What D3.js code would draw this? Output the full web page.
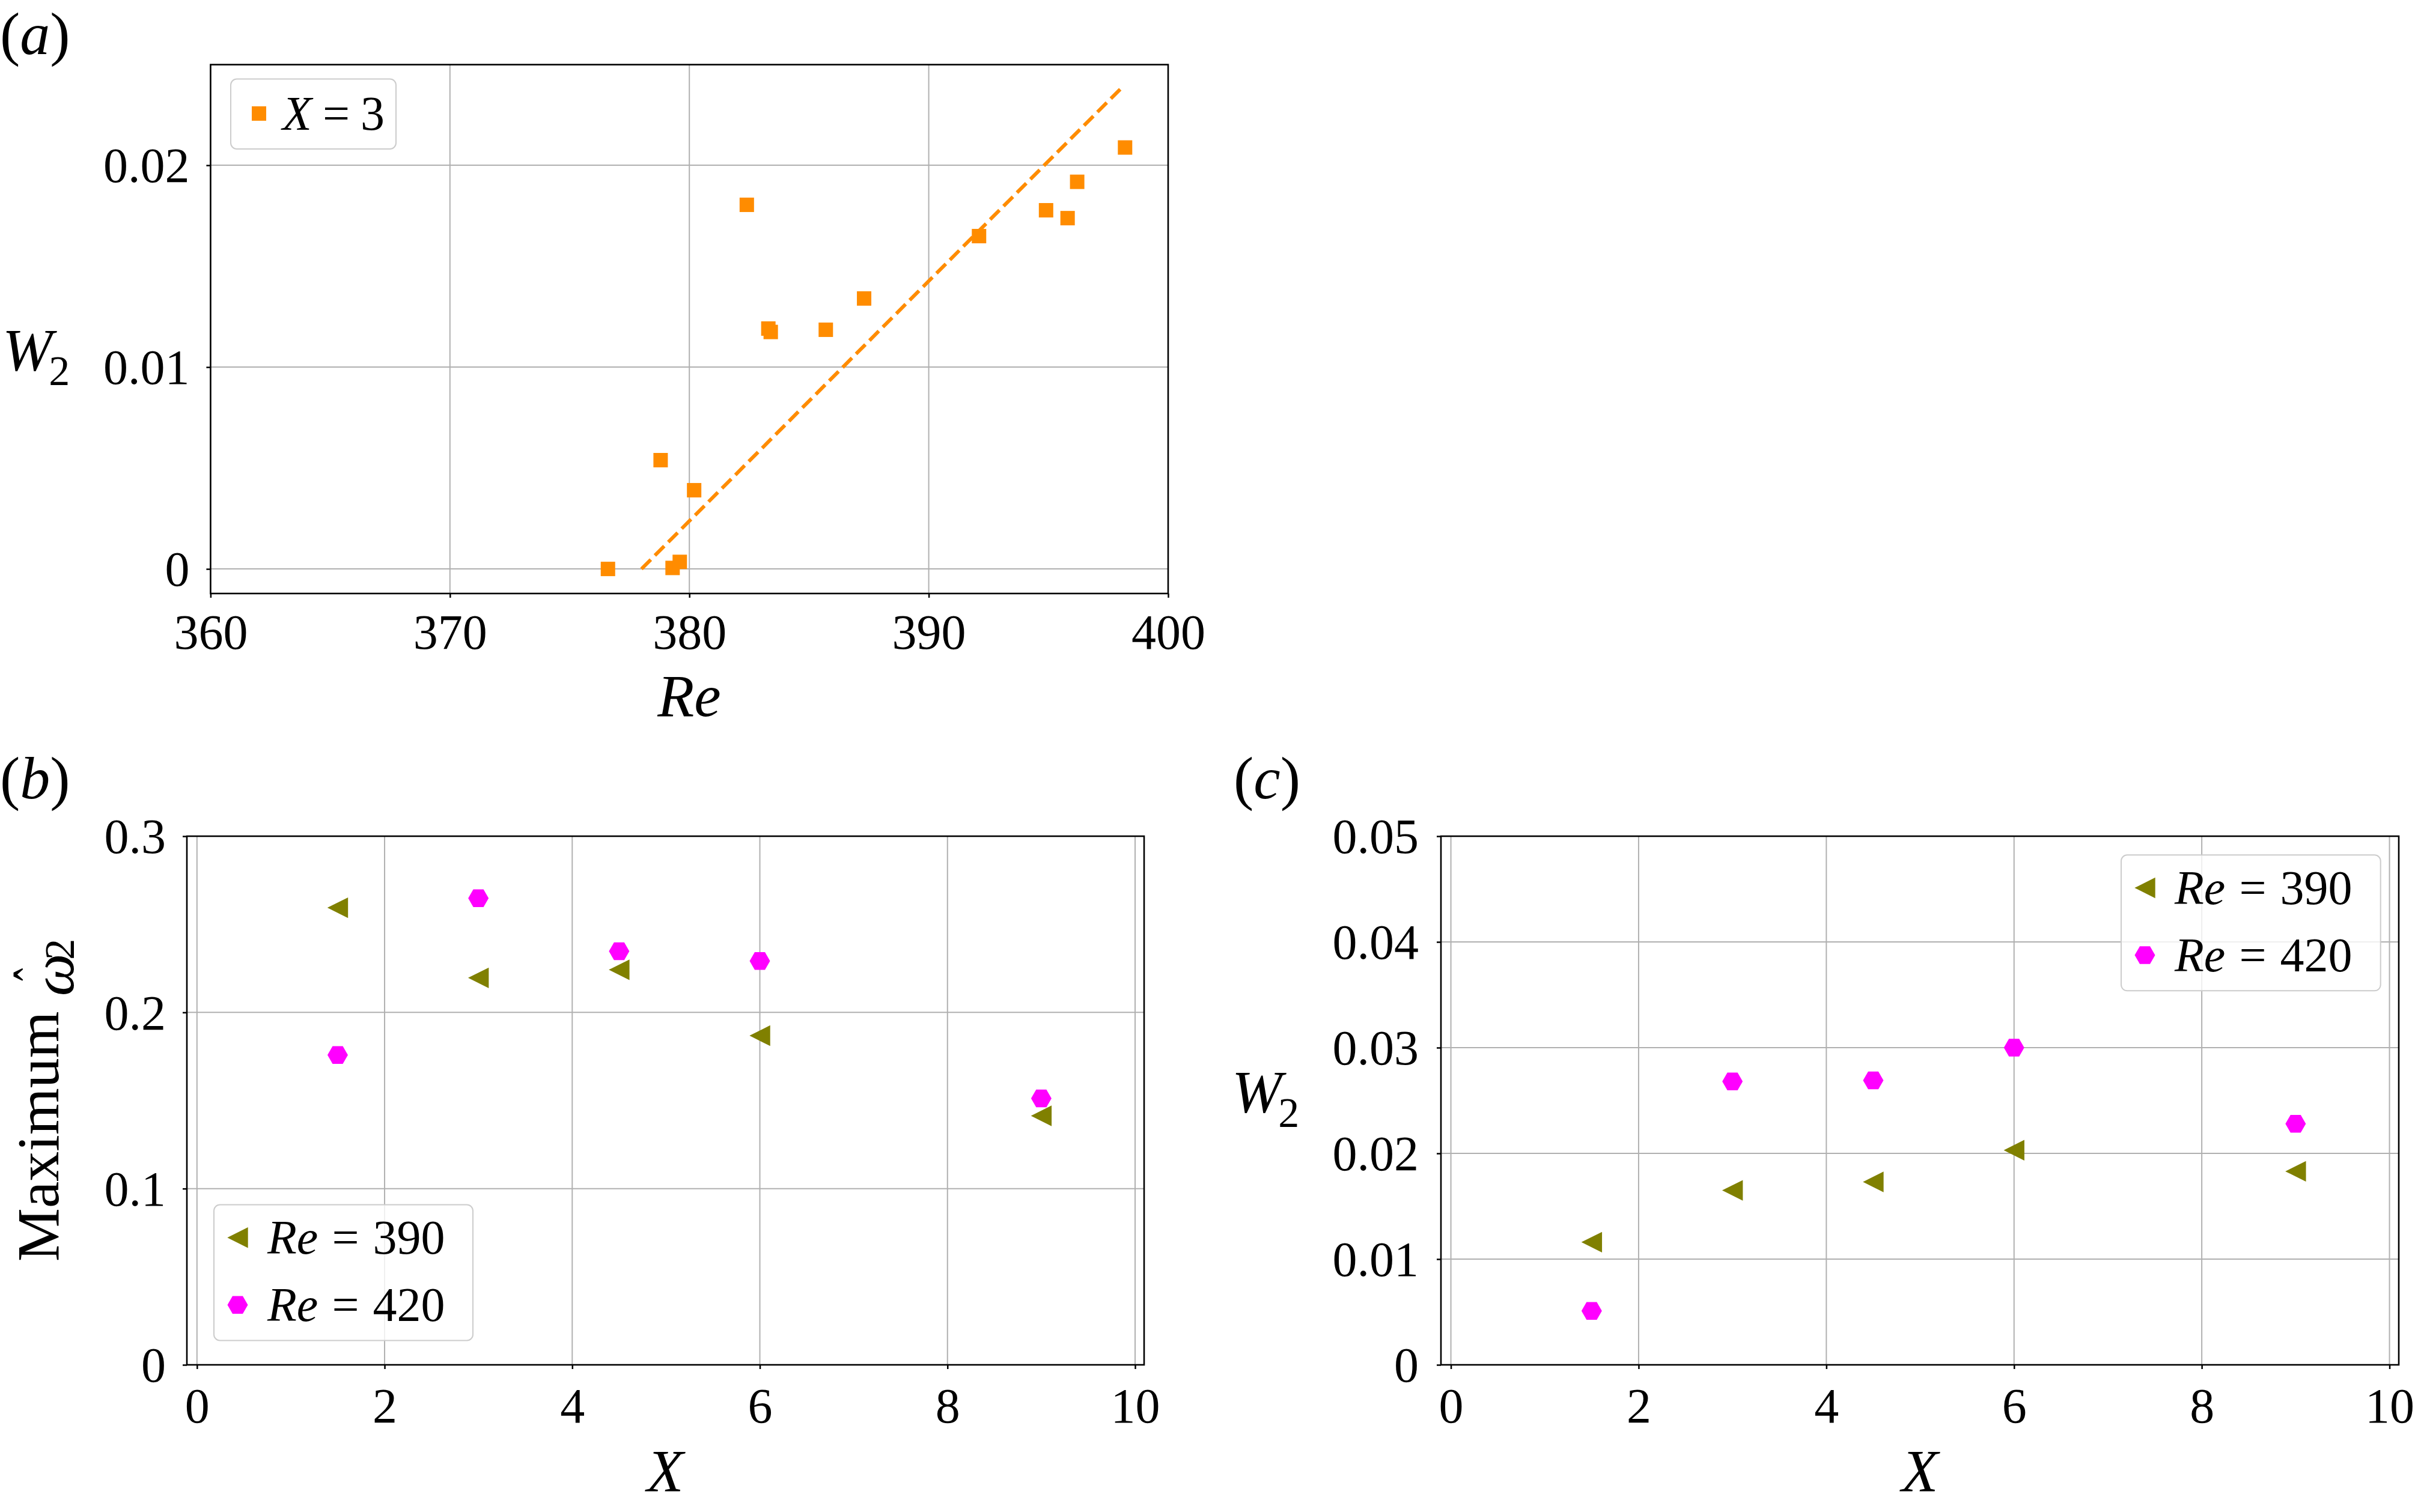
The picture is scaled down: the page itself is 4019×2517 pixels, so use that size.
<!DOCTYPE html>
<html>
<head>
<meta charset="utf-8">
<script src="https://cdn.jsdelivr.net/npm/d3@7"></script>
<style>
html,body{margin:0;padding:0;background:#fff;}
svg{display:block;}
text{font-family:"Liberation Serif","Times New Roman",Times,serif;white-space:pre;}
</style>
</head>
<body>
<svg id="chart" width="4019" height="2517" xmlns="http://www.w3.org/2000/svg"></svg>
<script>
// ---------------- DATA ----------------
// Panel (a): W2 vs Re at X = 3
const reA  = [376.6, 378.8, 379.3, 379.6, 380.2, 382.4, 383.3, 383.4, 385.7, 387.3, 392.1, 394.9, 395.8, 396.2, 398.2];
const w2A  = [0.0000, 0.00539, 0.00005, 0.00035, 0.0039, 0.01804, 0.01191, 0.01174, 0.01185, 0.0134, 0.01649, 0.01777, 0.01738, 0.01918, 0.02088];
// dashed fit line (a)
const fitRe = [378.0, 398.0];
const fitW2 = [0.0, 0.02377];
// Panels (b) and (c): X positions
const xPos = [1.5, 3, 4.5, 6, 9];
// (b) maximum omega-hat_2
const omegaRe390 = [0.2594, 0.2196, 0.2242, 0.1868, 0.1413];
const omegaRe420 = [0.1758, 0.2648, 0.2347, 0.2292, 0.1512];
// (c) W2
const w2Re390 = [0.0116, 0.0165, 0.0173, 0.0203, 0.0183];
const w2Re420 = [0.0051, 0.0268, 0.0269, 0.0300, 0.0228];
// ticks
const xTicksA = [360, 370, 380, 390, 400];
const xTickLabelsA = ["360", "370", "380", "390", "400"];
const yTicksA = [0, 0.01, 0.02];
const yTickLabelsA = ["0", "0.01", "0.02"];
const xTicksBC = [0, 2, 4, 6, 8, 10];
const xTickLabelsBC = ["0", "2", "4", "6", "8", "10"];
const yTicksB = [0, 0.1, 0.2, 0.3];
const yTickLabelsB = ["0", "0.1", "0.2", "0.3"];
const yTicksC = [0, 0.01, 0.02, 0.03, 0.04, 0.05];
const yTickLabelsC = ["0", "0.01", "0.02", "0.03", "0.04", "0.05"];
// legend labels
const legendA = [{it: "X", rest: " = 3"}];
const legendBC = [{it: "Re", rest: " = 390"}, {it: "Re", rest: " = 420"}];

// ---------------- STYLE ----------------
const FONT = '"Liberation Serif","Times New Roman",Times,serif';
const TICK_FS = 82, LABEL_FS = 100, LEG_FS = 80;
const ORANGE = "#ff8c00", OLIVE = "#808000", MAGENTA = "#ff00ff";
const GRID = "#b0b0b0";

const svg = d3.select("#chart");

function trianglePath(s) { const h = s / 2; return `M${-h},0L${h},${-h}L${h},${h}Z`; }
function hexPath(s) {
  const r = s / 2, p = [];
  for (let i = 0; i < 6; i++) { const a = Math.PI / 3 * i; p.push([r * Math.cos(a), r * Math.sin(a)]); }
  return "M" + p.map(q => q[0].toFixed(2) + "," + q[1].toFixed(2)).join("L") + "Z";
}
function squarePath(s) { return d3.symbol(d3.symbolSquare, s * s)(); }

function panel(cfg) {
  const g = svg.append("g");
  const x = d3.scaleLinear().domain(cfg.xDomain).range([cfg.l, cfg.r]);
  const y = d3.scaleLinear().domain(cfg.yDomain).range([cfg.b, cfg.t]);
  const grid = g.append("g");
  grid.selectAll("line.gx").data(cfg.xTicks).join("line").attr("class", "gx")
    .attr("x1", d => x(d)).attr("x2", d => x(d)).attr("y1", cfg.t).attr("y2", cfg.b)
    .attr("stroke", GRID).attr("stroke-width", 2);
  grid.selectAll("line.gy").data(cfg.yTicks).join("line").attr("class", "gy")
    .attr("y1", d => y(d)).attr("y2", d => y(d)).attr("x1", cfg.l).attr("x2", cfg.r)
    .attr("stroke", GRID).attr("stroke-width", 2);
  const dataG = g.append("g");
  const top = g.append("g");
  top.append("rect").attr("x", cfg.l).attr("y", cfg.t).attr("width", cfg.r - cfg.l).attr("height", cfg.b - cfg.t)
    .attr("fill", "none").attr("stroke", "#000").attr("stroke-width", 2.6);
  const ax = top.append("g").attr("transform", `translate(0,${cfg.b})`)
    .call(d3.axisBottom(x).tickValues(cfg.xTicks).tickFormat((d, i) => cfg.xTickLabels[i]).tickSize(7).tickSizeOuter(0));
  ax.select(".domain").remove();
  ax.selectAll(".tick line").attr("stroke", "#000").attr("stroke-width", 2.5);
  ax.selectAll(".tick text").attr("y", cfg.xLabOff).attr("dy", null)
    .attr("font-size", TICK_FS).attr("font-family", FONT).attr("fill", "#000");
  const ay = top.append("g").attr("transform", `translate(${cfg.l},0)`)
    .call(d3.axisLeft(y).tickValues(cfg.yTicks).tickFormat((d, i) => cfg.yTickLabels[i]).tickSize(7).tickSizeOuter(0));
  ay.select(".domain").remove();
  ay.selectAll(".tick line").attr("stroke", "#000").attr("stroke-width", 2.5);
  ay.selectAll(".tick text").attr("x", -cfg.yLabOff).attr("dy", "0.34em")
    .attr("font-size", TICK_FS).attr("font-family", FONT).attr("fill", "#000");
  return { x, y, dataG, top };
}

function legend(parent, box, items) {
  const lg = parent.append("g");
  lg.append("rect").attr("x", box.x).attr("y", box.y).attr("width", box.w).attr("height", box.h)
    .attr("rx", 10).attr("ry", 10).attr("fill", "#fff").attr("fill-opacity", 0.8)
    .attr("stroke", "#cccccc").attr("stroke-width", 2);
  items.forEach((it, i) => {
    const cy = box.y + box.row0 + i * box.rowStep;
    lg.append("path").attr("d", it.path).attr("fill", it.color)
      .attr("transform", `translate(${box.x + box.mx},${cy})`);
    const t = lg.append("text").attr("x", box.x + box.tx).attr("y", cy).attr("dy", "0.34em")
      .attr("font-size", LEG_FS).attr("fill", "#000");
    t.append("tspan").attr("font-style", "italic").text(it.label.it);
    t.append("tspan").attr("word-spacing", box.ws || 0).text(it.label.rest);
  });
}

function panelLabel(x, y, letter) {
  const t = svg.append("text").attr("x", x).attr("y", y).attr("font-size", LABEL_FS).attr("fill", "#000");
  t.append("tspan").text("(");
  t.append("tspan").attr("font-style", "italic").text(letter);
  t.append("tspan").text(")");
}

function w2Label(x, y) {
  const t = svg.append("text").attr("x", x).attr("y", y).attr("font-size", LABEL_FS).attr("fill", "#000");
  t.append("tspan").attr("font-style", "italic").text("W");
  t.append("tspan").attr("font-size", 70).attr("dx", -6).attr("dy", 25).text("2");
}

// ---------------- PANEL (a) ----------------
const A = panel({
  l: 350.4, r: 1944, t: 107.6, b: 988,
  xDomain: [360, 400], yDomain: [-0.001217, 0.024985],
  xTicks: xTicksA, xTickLabels: xTickLabelsA, yTicks: yTicksA, yTickLabels: yTickLabelsA,
  xLabOff: 92, yLabOff: 35
});
const fitData = fitRe.map((r, i) => [r, fitW2[i]]);
A.dataG.append("path").datum(fitData)
  .attr("d", d3.line().x(d => A.x(d[0])).y(d => A.y(d[1])))
  .attr("fill", "none").attr("stroke", ORANGE).attr("stroke-width", 6)
  .attr("stroke-dasharray", "22,9.6");
A.dataG.selectAll("path.sq").data(reA.map((r, i) => [r, w2A[i]])).join("path").attr("class", "sq")
  .attr("d", squarePath(24)).attr("fill", ORANGE)
  .attr("transform", d => `translate(${A.x(d[0])},${A.y(d[1])})`);
legend(A.top, { x: 384, y: 131.5, w: 275, h: 116.5, row0: 57.5, rowStep: 112, mx: 47, tx: 86, ws: -2 },
  [{ path: squarePath(24), color: ORANGE, label: legendA[0] }]);
svg.append("text").attr("x", 1147).attr("y", 1192).attr("text-anchor", "middle")
  .attr("font-size", LABEL_FS).attr("font-style", "italic").text("Re");
w2Label(4, 616);
panelLabel(0, 90, "a");

// ---------------- PANEL (b) ----------------
const B = panel({
  l: 311, r: 1904, t: 1392, b: 2272,
  xDomain: [-0.1076, 10.096], yDomain: [0, 0.3],
  xTicks: xTicksBC, xTickLabels: xTickLabelsBC, yTicks: yTicksB, yTickLabels: yTickLabelsB,
  xLabOff: 96, yLabOff: 35
});
B.dataG.selectAll("path.tri").data(xPos.map((v, i) => [v, omegaRe390[i]])).join("path").attr("class", "tri")
  .attr("d", trianglePath(34.4)).attr("fill", OLIVE)
  .attr("transform", d => `translate(${B.x(d[0])},${B.y(d[1])})`);
B.dataG.selectAll("path.hex").data(xPos.map((v, i) => [v, omegaRe420[i]])).join("path").attr("class", "hex")
  .attr("d", hexPath(34)).attr("fill", MAGENTA)
  .attr("transform", d => `translate(${B.x(d[0])},${B.y(d[1])})`);
legend(B.top, { x: 356, y: 2005.5, w: 431, h: 226, row0: 54.7, rowStep: 112, mx: 39.5, tx: 89, ws: 3 },
  [{ path: trianglePath(34.4), color: OLIVE, label: legendBC[0] },
   { path: hexPath(34), color: MAGENTA, label: legendBC[1] }]);
svg.append("text").attr("x", 1107).attr("y", 2482).attr("text-anchor", "middle")
  .attr("font-size", LABEL_FS).attr("font-style", "italic").text("X");
// rotated y label: Maximum omega-hat_2
(function () {
  const g = svg.append("g").attr("transform", "translate(96.7,1832) rotate(-90)");
  const x0 = -268;
  const t1 = g.append("text").attr("x", x0).attr("y", 0).attr("font-size", LABEL_FS).text("Maximum ");
  const w1 = t1.node().getComputedTextLength();
  const t2 = g.append("text").attr("x", x0 + w1).attr("y", 25).attr("font-size", LABEL_FS)
    .attr("font-style", "italic").text("\u03C9");
  const w2 = t2.node().getComputedTextLength();
  g.append("text").attr("text-anchor", "middle").attr("font-size", 80)
    .attr("transform", `translate(${x0 + w1 + 36},-1.9) scale(0.79,1.3)`).text("\u02C6");
  g.append("text").attr("x", x0 + w1 + w2 - 10).attr("y", 26).attr("font-size", 70).text("2");
})();
panelLabel(0, 1329, "b");

// ---------------- PANEL (c) ----------------
const C = panel({
  l: 2398, r: 3992, t: 1392, b: 2272,
  xDomain: [-0.106, 10.099], yDomain: [0, 0.05],
  xTicks: xTicksBC, xTickLabels: xTickLabelsBC, yTicks: yTicksC, yTickLabels: yTickLabelsC,
  xLabOff: 96, yLabOff: 37
});
C.dataG.selectAll("path.tri").data(xPos.map((v, i) => [v, w2Re390[i]])).join("path").attr("class", "tri")
  .attr("d", trianglePath(34.4)).attr("fill", OLIVE)
  .attr("transform", d => `translate(${C.x(d[0])},${C.y(d[1])})`);
C.dataG.selectAll("path.hex").data(xPos.map((v, i) => [v, w2Re420[i]])).join("path").attr("class", "hex")
  .attr("d", hexPath(34)).attr("fill", MAGENTA)
  .attr("transform", d => `translate(${C.x(d[0])},${C.y(d[1])})`);
legend(C.top, { x: 3530, y: 1423.3, w: 431.7, h: 226, row0: 54.7, rowStep: 112, mx: 39.5, tx: 89, ws: 3 },
  [{ path: trianglePath(34.4), color: OLIVE, label: legendBC[0] },
   { path: hexPath(34), color: MAGENTA, label: legendBC[1] }]);
svg.append("text").attr("x", 3195).attr("y", 2482).attr("text-anchor", "middle")
  .attr("font-size", LABEL_FS).attr("font-style", "italic").text("X");
w2Label(2050, 1851);
panelLabel(2053, 1329, "c");
</script>
</body>
</html>
